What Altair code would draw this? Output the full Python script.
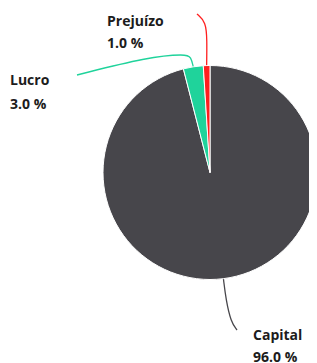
import math
import altair as alt
import pandas as pd

# ---- data ----
categories = ["Capital", "Lucro", "Prejuízo"]
values = [96.0, 3.0, 1.0]
colors = ["#47464b", "#1fd39b", "#ff1f1f"]

# ---- layout (pixel positions inside the plot area) ----
W, H = 301, 355
CX, CY, R = 202, 164.5, 107
# label anchor: left x, baseline of first line, line gap
label_pos = {
    "Capital": (245, 332, 22),
    "Lucro": (2, 77, 24),
    "Prejuízo": (99, 17.5, 22),
}
leader_way = {
    "Capital": [(218, 292), (223, 314), (229, 322)],
    "Lucro": [(183, 49), (178, 46), (140, 49), (69, 67)],
    "Prejuízo": [(199, 32), (198, 14), (189, 6)],
}

total = sum(values)
pie_df = pd.DataFrame({"cat": categories, "val": values, "order": range(len(values))})

rows = []
cum = 0.0
for c, v in zip(categories, values):
    mid = (cum + v / 2) / total * 2 * math.pi
    cum += v
    sx = CX + R * math.sin(mid)
    sy = CY - R * math.cos(mid)
    pts = [(sx, sy)] + leader_way[c]
    for i, (x, y) in enumerate(pts):
        rows.append({"cat": c, "i": i, "x": x, "y": y})
line_df = pd.DataFrame(rows)

lab_rows = []
for c, v in zip(categories, values):
    lx, ly, gap = label_pos[c]
    lab_rows.append({"cat": c, "txt": c, "x": lx, "y": ly})
    lab_rows.append({"cat": c, "txt": f"{v:.1f} %", "x": lx, "y": ly + gap})
lab_df = pd.DataFrame(lab_rows)

color_scale = alt.Scale(domain=categories, range=colors)

pie = alt.Chart(pie_df).mark_arc(radius=R, stroke="white", strokeWidth=1).encode(
    theta=alt.Theta("val:Q", stack=True),
    color=alt.Color("cat:N", scale=color_scale, legend=None),
    order=alt.Order("order:Q"),
    x=alt.value(CX),
    y=alt.value(CY),
)

lines = alt.Chart(line_df).mark_line(interpolate="basis", strokeWidth=1.3).encode(
    x=alt.X("x:Q", scale=None),
    y=alt.Y("y:Q", scale=None),
    detail="cat:N",
    order="i:Q",
    color=alt.Color("cat:N", scale=color_scale, legend=None),
)

labels = alt.Chart(lab_df).mark_text(
    align="left", baseline="alphabetic", font="Open Sans", fontWeight="bold",
    fontSize=14, color="#1c1c1c"
).encode(
    x=alt.X("x:Q", scale=None),
    y=alt.Y("y:Q", scale=None),
    text="txt:N",
)

chart = alt.layer(lines, pie, labels).properties(
    width=W, height=H, padding=0, autosize=alt.AutoSizeParams(type="none")
).configure_view(stroke=None)

chart.save("out.html", embed_options={"renderer": "svg", "actions": False})
